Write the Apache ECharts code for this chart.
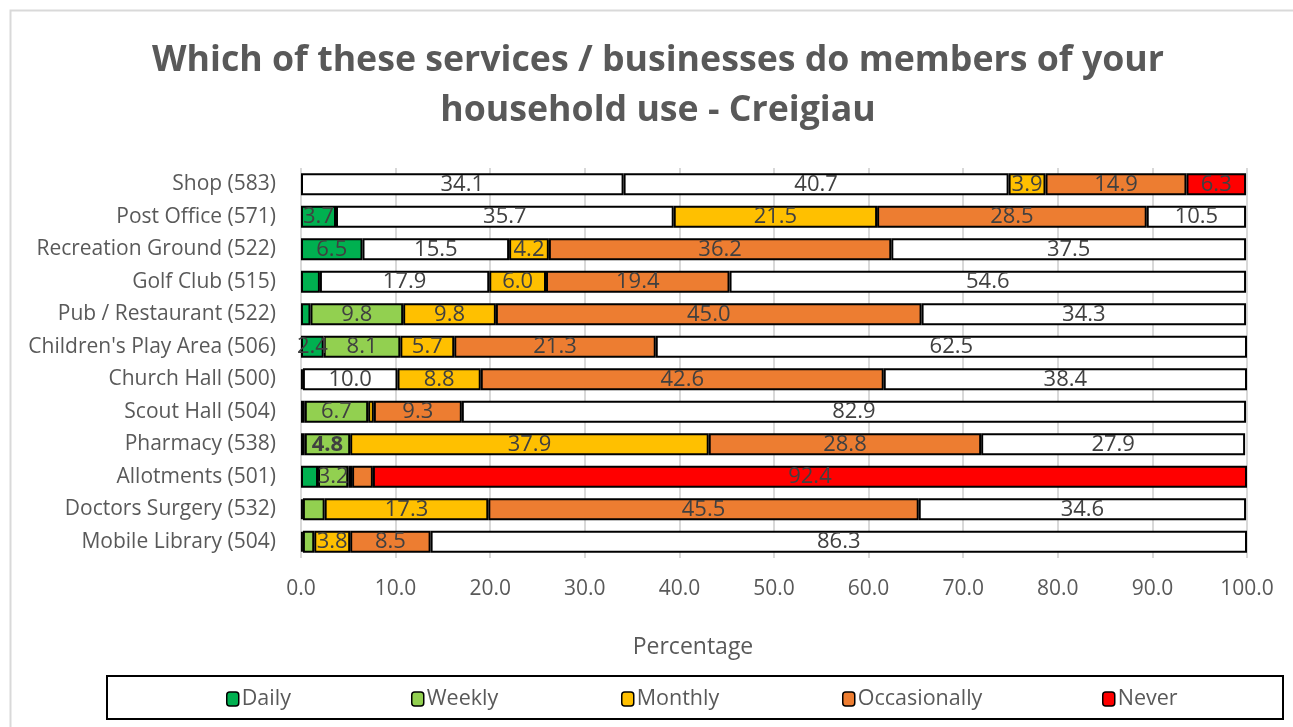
<!DOCTYPE html>
<html>
<head>
<meta charset="utf-8">
<style>
  html, body { margin: 0; padding: 0; background: #fff; }
  #chart { width: 1293px; height: 727px; }
</style>
<script src="https://cdn.jsdelivr.net/npm/echarts@6/dist/echarts.min.js"></script>
</head>
<body>
<div id="chart"></div>
<script>
// data
const categories = [
  "Shop (583)", "Post Office (571)", "Recreation Ground (522)", "Golf Club (515)",
  "Pub / Restaurant (522)", "Children's Play Area (506)", "Church Hall (500)",
  "Scout Hall (504)", "Pharmacy (538)", "Allotments (501)", "Doctors Surgery (532)",
  "Mobile Library (504)"
];
const daily        = [34.1, 3.7, 6.5, 2.0, 1.0, 2.4, 0.2, 0.4, 0.4, 1.8, 0.2, 0.2];
const weekly       = [40.7, 35.7, 15.5, 17.9, 9.8, 8.1, 10.0, 6.7, 4.8, 3.2, 2.3, 1.2];
const monthly      = [3.9, 21.5, 4.2, 6.0, 9.8, 5.7, 8.8, 0.6, 37.9, 0.4, 17.3, 3.8];
const occasionally = [14.9, 28.5, 36.2, 19.4, 45.0, 21.3, 42.6, 9.3, 28.8, 2.2, 45.5, 8.5];
const never        = [6.3, 10.5, 37.5, 54.6, 34.3, 62.5, 38.4, 82.9, 27.9, 92.4, 34.6, 86.3];
const xTicks = [0, 10, 20, 30, 40, 50, 60, 70, 80, 90, 100];

// rows where the original chart painted a segment white
const whiteRows = {
  Daily: [0, 6],
  Weekly: [0, 1, 2, 3, 6],
  Never: [1, 2, 3, 4, 5, 6, 7, 8, 10, 11]
};
const boldLabels = { Weekly: [8] };

const colors = {
  Daily: "#00B050",
  Weekly: "#92D050",
  Monthly: "#FFC000",
  Occasionally: "#ED7D31",
  Never: "#FF0000"
};
const FONT = "Open Sans";

function makeSeries(name, values) {
  let white = whiteRows[name] || [];
  let bold = boldLabels[name] || [];
  return {
    name: name,
    type: "bar",
    stack: "total",
    barWidth: 22,
    itemStyle: { color: colors[name], borderColor: "#000", borderWidth: 2 },
    label: {
      show: true,
      position: "inside",
      color: "#404040",
      fontFamily: FONT,
      fontSize: 22,
      formatter: p => (p.value >= 2.35 ? p.value.toFixed(1) : "")
    },
    data: values.map((v, i) => {
      let item = { value: v };
      if (white.indexOf(i) >= 0) item.itemStyle = { color: "#fff" };
      if (bold.indexOf(i) >= 0) item.label = { fontWeight: "bold" };
      return item;
    })
  };
}

let series = [
  makeSeries("Daily", daily),
  makeSeries("Weekly", weekly),
  makeSeries("Monthly", monthly),
  makeSeries("Occasionally", occasionally),
  makeSeries("Never", never)
];

// one legend per entry so each can sit where Excel put it
let legendLeft = [226, 411, 621, 842, 1102];
let legends = Object.keys(colors).map((name, i) => ({
  data: [name],
  left: legendLeft[i],
  top: 688,
  itemWidth: 12,
  itemHeight: 14,
  itemGap: 4,
  padding: 0,
  selectedMode: false,
  textStyle: { color: "#595959", fontFamily: FONT, fontSize: 21.5, padding: [0, 0, 0, -2] },
  itemStyle: { borderColor: "#000", borderWidth: 1.5 }
}));

let option = {
  animation: false,
  backgroundColor: "#fff",
  title: {
    text: "Which of these services / businesses do members of your\nhousehold use - Creigiau",
    left: 653,
    textAlign: "center",
    top: 31,
    textStyle: {
      color: "#595959",
      fontFamily: FONT,
      fontWeight: "bold",
      fontSize: 35.7,
      lineHeight: 50
    }
  },
  legend: legends,
  grid: { left: 301, right: 46, top: 168, bottom: 169 },
  xAxis: {
    type: "value",
    min: 0,
    max: 100,
    interval: 10,
    name: "Percentage",
    nameLocation: "middle",
    nameGap: 78,
    nameTextStyle: {
      color: "#595959",
      fontFamily: FONT,
      fontSize: 23,
      padding: [0, 162, 0, 0]
    },
    axisLine: { show: false },
    axisTick: { show: false },
    axisLabel: {
      color: "#595959",
      fontFamily: FONT,
      fontSize: 21,
      margin: 21,
      formatter: v => (xTicks.indexOf(v) >= 0 ? v.toFixed(1) : "")
    },
    splitLine: { show: true, lineStyle: { color: "#D9D9D9", width: 2 } }
  },
  yAxis: {
    type: "category",
    inverse: true,
    data: categories,
    axisLine: { show: false },
    axisTick: { show: false },
    axisLabel: { color: "#595959", fontFamily: FONT, fontSize: 21, margin: 25 }
  },
  graphic: [
    {
      type: "rect",
      shape: { x: 10.5, y: 10.5, width: 1300, height: 740 },
      style: { fill: null, stroke: "#D9D9D9", lineWidth: 2 },
      silent: true,
      z: -1
    },
    {
      type: "rect",
      shape: { x: 107, y: 676, width: 1176, height: 43 },
      style: { fill: null, stroke: "#000", lineWidth: 2 },
      silent: true
    }
  ],
  series: series
};

let chart = echarts.init(document.getElementById("chart"));
chart.setOption(option);
</script>
</body>
</html>
